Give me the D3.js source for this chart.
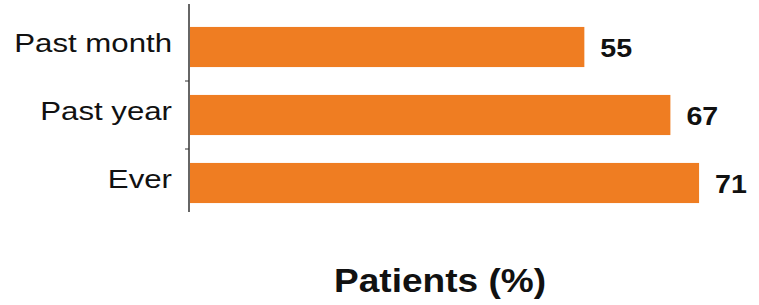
<!DOCTYPE html>
<html>
<head>
<meta charset="utf-8">
<script src="https://cdn.jsdelivr.net/npm/d3@7"></script>
<style>
  body { margin: 0; background: #fff; }
  svg { display: block; font-family: "Liberation Sans", Arial, sans-serif; }
</style>
</head>
<body>
<svg id="chart"></svg>
<script>
// data
const categories = ['Past month', 'Past year', 'Ever'];
const values = [55, 67, 71];
const axisTitle = 'Patients (%)';

const width = 759, height = 305;
const svg = d3.select('#chart').attr('width', width).attr('height', height);

// scales
const x = d3.scaleLinear().domain([0, 80]).range([190, 763.6]);
const y = d3.scaleBand()
    .domain(categories)
    .range([13, 217])
    .paddingInner(0.41)
    .paddingOuter(0.205);

const barColor = '#ef7d22';

// bars
svg.selectAll('.bar')
    .data(categories)
    .join('rect')
    .attr('class', 'bar')
    .attr('x', x(0))
    .attr('y', d => y(d))
    .attr('width', (d, i) => x(values[i]) - x(0))
    .attr('height', y.bandwidth())
    .attr('fill', barColor);

// vertical axis line + tick marks between categories
svg.append('line')
    .attr('x1', 189).attr('x2', 189)
    .attr('y1', 4).attr('y2', 212)
    .attr('stroke', '#333')
    .attr('stroke-width', 1.5);

const gap = y.step() - y.bandwidth();
svg.selectAll('.tick')
    .data(categories.slice(0, -1))
    .join('line')
    .attr('class', 'tick')
    .attr('x1', 185).attr('x2', 189)
    .attr('y1', d => y(d) + y.bandwidth() + gap / 2)
    .attr('y2', d => y(d) + y.bandwidth() + gap / 2)
    .attr('stroke', '#333');

// category labels (stretched a bit horizontally like the source)
svg.selectAll('.cat')
    .data(categories)
    .join('text')
    .attr('class', 'cat')
    .attr('transform', d => `translate(172,${y(d) + y.bandwidth() / 2 + 5}) scale(1.2,1)`)
    .attr('text-anchor', 'end')
    .style('font-size', '26px')
    .style('fill', '#111')
    .text(d => d);

// value labels
svg.selectAll('.val')
    .data(categories)
    .join('text')
    .attr('class', 'val')
    .attr('transform', (d, i) => `translate(${x(values[i]) + 16},${y(d) + y.bandwidth() / 2 + 10}) scale(1.1,1)`)
    .style('font-size', '26px')
    .style('font-weight', 'bold')
    .style('fill', '#111')
    .text((d, i) => values[i]);

// axis title
svg.append('text')
    .attr('transform', 'translate(440,292) scale(1.09,1)')
    .attr('text-anchor', 'middle')
    .style('font-size', '34px')
    .style('font-weight', 'bold')
    .style('fill', '#111')
    .text(axisTitle);
</script>
</body>
</html>
